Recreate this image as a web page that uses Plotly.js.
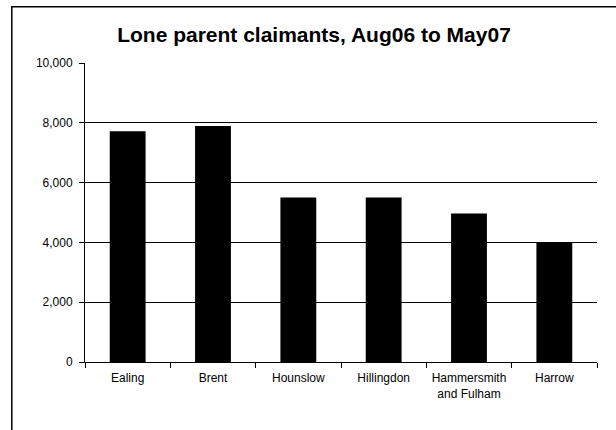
<!DOCTYPE html>
<html>
<head>
<meta charset="utf-8">
<script src="https://cdn.plot.ly/plotly-3.0.1.min.js"></script>
<style>
html,body{margin:0;padding:0;background:#fff;}
#chart{width:616px;height:430px;}
</style>
</head>
<body>
<div id="chart"></div>
<script>
const categories = ["Ealing", "Brent", "Hounslow", "Hillingdon", "Hammersmith<br>and Fulham", "Harrow"];
const claimants = [7720, 7890, 5500, 5500, 4970, 4000];
const yTickValues = [0, 2000, 4000, 6000, 8000, 10000];
const yTickLabels = ["0", "2,000", "4,000", "6,000", "8,000", "10,000"];
const chartTitle = "Lone parent claimants, Aug06 to May07";

const font = "Liberation Sans, Arial, sans-serif";

const data = [{
  type: "bar",
  x: categories,
  y: claimants,
  marker: {color: "#000000", line: {width: 0}},
  hoverinfo: "x+y"
}];

const layout = {
  width: 616,
  height: 430,
  margin: {l: 85, r: 19, t: 62.5, b: 67.5},
  paper_bgcolor: "#ffffff",
  plot_bgcolor: "#ffffff",
  showlegend: false,
  bargap: 0.58,
  font: {family: font, color: "#000000", size: 12},
  title: {
    text: "<b>" + chartTitle + "</b>",
    font: {family: font, size: 21, color: "#000000"},
    x: 314 / 616, xanchor: "center", xref: "container",
    y: 1 - 34.7 / 430, yanchor: "middle", yref: "container"
  },
  xaxis: {
    type: "category",
    showline: true, linecolor: "#000000", linewidth: 1,
    ticks: "outside", tickson: "boundaries", ticklen: 5, tickcolor: "#000000", tickwidth: 1,
    ticklabelstandoff: 5,
    showgrid: false,
    tickfont: {family: font, size: 12, color: "#000000"},
    fixedrange: true
  },
  yaxis: {
    range: [0, 10000],
    tickvals: yTickValues,
    ticktext: yTickLabels,
    showline: true, linecolor: "#000000", linewidth: 1,
    ticks: "outside", ticklen: 5, tickcolor: "#000000", tickwidth: 1,
    ticklabelstandoff: 4,
    showgrid: true, gridcolor: "#000000", gridwidth: 1,
    zeroline: false,
    tickfont: {family: font, size: 12, color: "#000000"},
    fixedrange: true
  },
  shapes: [{
    type: "rect", xref: "paper", yref: "paper",
    x0: (11.8 - 85) / 512, x1: 1.5,
    y0: -0.6, y1: (362.5 - 6) / 300,
    line: {color: "#000000", width: 1.5},
    fillcolor: "rgba(0,0,0,0)",
    layer: "below"
  }]
};

Plotly.newPlot("chart", data, layout, {displayModeBar: false, staticPlot: true});
</script>
</body>
</html>
